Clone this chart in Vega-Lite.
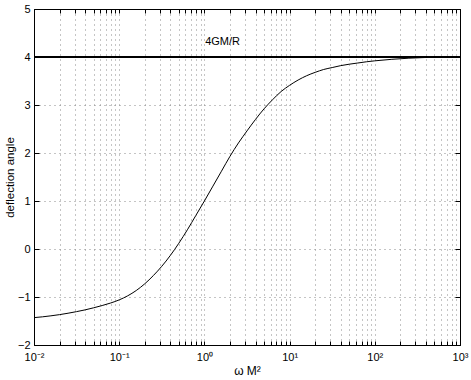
{
  "$schema": "https://vega.github.io/schema/vega-lite/v6.json",
  "width": 426,
  "height": 336,
  "autosize": {"type": "none"},
  "padding": {"left": 34, "top": 9, "right": 11, "bottom": 35},
  "background": "white",
  "config": {
    "view": {"stroke": "black", "strokeWidth": 1},
    "font": "Liberation Sans",
    "axis": {
      "labelFont": "Liberation Sans",
      "labelFontSize": 11,
      "labelColor": "#000",
      "titleFont": "Liberation Sans",
      "titleFontSize": 12,
      "titleFontWeight": "normal",
      "titleColor": "#000",
      "tickColor": "#000",
      "domainColor": "#000",
      "gridColor": "#8a8a8a",
      "gridDash": [1, 4],
      "gridOpacity": 1,
      "labelOverlap": false,
      "labelFlush": false
    }
  },
  "datasets": {
    "curve": [
      {"x": 0.01, "y": -1.43}, {"x": 0.0126, "y": -1.413}, {"x": 0.0158, "y": -1.392},
      {"x": 0.02, "y": -1.367}, {"x": 0.0251, "y": -1.338}, {"x": 0.0316, "y": -1.305},
      {"x": 0.0398, "y": -1.268}, {"x": 0.0501, "y": -1.225}, {"x": 0.0631, "y": -1.178},
      {"x": 0.0794, "y": -1.125}, {"x": 0.1, "y": -1.06}, {"x": 0.1259, "y": -0.975},
      {"x": 0.1585, "y": -0.865}, {"x": 0.1995, "y": -0.725}, {"x": 0.2512, "y": -0.555},
      {"x": 0.3162, "y": -0.36}, {"x": 0.3981, "y": -0.135}, {"x": 0.5012, "y": 0.12},
      {"x": 0.631, "y": 0.40}, {"x": 0.7943, "y": 0.70}, {"x": 1.0, "y": 1.0},
      {"x": 1.259, "y": 1.31}, {"x": 1.585, "y": 1.62}, {"x": 1.995, "y": 1.93},
      {"x": 2.512, "y": 2.21}, {"x": 3.162, "y": 2.46}, {"x": 3.981, "y": 2.70},
      {"x": 5.012, "y": 2.92}, {"x": 6.31, "y": 3.11}, {"x": 7.943, "y": 3.28},
      {"x": 10, "y": 3.41}, {"x": 12.59, "y": 3.52}, {"x": 15.85, "y": 3.61},
      {"x": 19.95, "y": 3.68}, {"x": 25.12, "y": 3.74}, {"x": 31.62, "y": 3.78},
      {"x": 39.81, "y": 3.82}, {"x": 50.12, "y": 3.85}, {"x": 63.1, "y": 3.875},
      {"x": 79.43, "y": 3.90}, {"x": 100, "y": 3.92}, {"x": 158.5, "y": 3.952},
      {"x": 251.2, "y": 3.975}, {"x": 398.1, "y": 3.99}, {"x": 631, "y": 3.997},
      {"x": 1000, "y": 4.0}
    ],
    "asym": [{"x": 0.01, "y": 4}, {"x": 1000, "y": 4}],
    "lbl": [{"x": 1.02, "y": 4.32, "t": "4GM/R"}]
  },
  "layer": [
    {
      "data": {"name": "curve"},
      "mark": {"type": "line", "color": "#000", "strokeWidth": 1, "clip": true, "interpolate": "monotone"},
      "encoding": {
        "x": {
          "field": "x", "type": "quantitative",
          "scale": {"type": "log", "domain": [0.01, 1000], "nice": false},
          "axis": {
            "orient": "bottom",
            "values": [0.01,0.02,0.03,0.04,0.05,0.06,0.07,0.08,0.09,0.1,0.2,0.3,0.4,0.5,0.6,0.7,0.8,0.9,1,2,3,4,5,6,7,8,9,10,20,30,40,50,60,70,80,90,100,200,300,400,500,600,700,800,900,1000],
            "labelExpr": "abs(log(datum.value)/LN10 - round(log(datum.value)/LN10)) > 0.001 ? '' : ['10⁻²','10⁻¹','10⁰','10¹','10²','10³'][round(log(datum.value)/LN10)+2]",
            "tickSize": -4,
            "labelPadding": 10,
            "title": "ω M²",
            "titlePadding": 3,
            "grid": true
          }
        },
        "y": {
          "field": "y", "type": "quantitative",
          "scale": {"domain": [-2, 5], "nice": false, "zero": false},
          "axis": {
            "orient": "left",
            "values": [-2, -1, 0, 1, 2, 3, 4, 5],
            "tickSize": -5,
            "labelPadding": 9,
            "title": "deflection angle",
            "titleFontSize": 11.5,
            "titlePadding": 2,
            "grid": true
          }
        }
      }
    },
    {
      "data": {"name": "asym"},
      "mark": {"type": "line", "color": "#000", "strokeWidth": 2},
      "encoding": {
        "x": {
          "field": "x", "type": "quantitative",
          "scale": {"type": "log", "domain": [0.01, 1000], "nice": false},
          "axis": {
            "orient": "top",
            "values": [0.01,0.02,0.03,0.04,0.05,0.06,0.07,0.08,0.09,0.1,0.2,0.3,0.4,0.5,0.6,0.7,0.8,0.9,1,2,3,4,5,6,7,8,9,10,20,30,40,50,60,70,80,90,100,200,300,400,500,600,700,800,900,1000],
            "labels": false,
            "tickSize": -4,
            "title": null,
            "grid": false
          }
        },
        "y": {
          "field": "y", "type": "quantitative",
          "scale": {"domain": [-2, 5], "nice": false, "zero": false},
          "axis": {
            "orient": "right",
            "values": [-2, -1, 0, 1, 2, 3, 4, 5],
            "labels": false,
            "tickSize": -5,
            "title": null,
            "grid": false
          }
        }
      }
    },
    {
      "data": {"name": "lbl"},
      "mark": {"type": "text", "align": "left", "baseline": "middle", "font": "Liberation Sans", "fontSize": 11, "color": "#000"},
      "encoding": {
        "x": {"field": "x", "type": "quantitative", "scale": {"type": "log", "domain": [0.01, 1000], "nice": false}, "axis": null},
        "y": {"field": "y", "type": "quantitative", "scale": {"domain": [-2, 5], "nice": false, "zero": false}, "axis": null},
        "text": {"field": "t"}
      }
    }
  ],
  "resolve": {"axis": {"x": "independent", "y": "independent"}}
}
